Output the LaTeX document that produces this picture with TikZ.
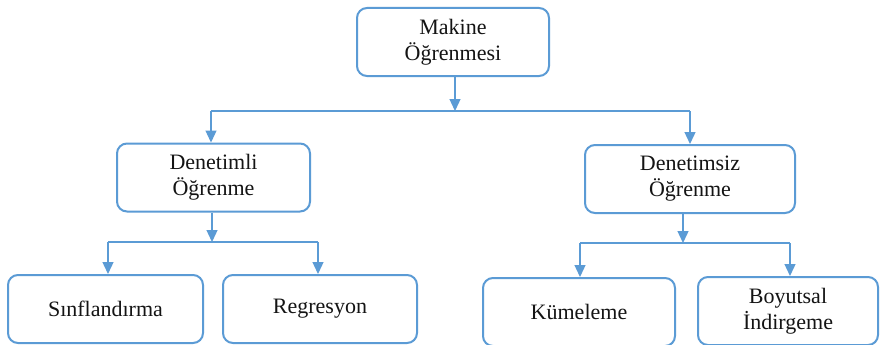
\documentclass[tikz,border=0pt]{standalone}
\usepackage{fontspec}
\setmainfont{Liberation Serif}
\usetikzlibrary{arrows.meta,calc}
\definecolor{boxblue}{RGB}{91,155,213}
\definecolor{txt}{RGB}{20,20,20}
\begin{document}
\begin{tikzpicture}[x=1pt,y=-1pt,
  box/.style={draw=boxblue, line width=2pt, rounded corners=10pt, fill=white, align=center, text=txt, font=\fontsize{22}{26}\selectfont, inner sep=0pt, minimum height=68pt},
  conn/.style={draw=boxblue, line width=1.3pt},
  arr/.style={conn, -{Triangle[width=11pt,length=12pt]}}]
\useasboundingbox[fill=white] (0,0) rectangle (880,345);
\node[box, minimum width=192pt] (mk) at (453,42) {Makine\\Öğrenmesi};
\node[box, minimum width=193pt] (den) at (213.5,177.5) {Denetimli\\Öğrenme};
\node[box, minimum width=210pt] (dsz) at (690,179) {Denetimsiz\\Öğrenme};
\node[box, minimum width=195pt] (sin) at (105.5,309) {Sınflandırma};
\node[box, minimum width=194pt] (reg) at (320,309) {Regresyon};
\node[box, minimum width=192pt] (kum) at (579,312) {Kümeleme};
\node[box, minimum width=180pt] (boy) at (788,311) {Boyutsal\\İndirgeme};
\coordinate (j1) at (455,111);
\coordinate (h1l) at (211,111);
\coordinate (h1r) at (690,111);
\coordinate (j2) at (212,242);
\coordinate (h2l) at (108,242);
\coordinate (h2r) at (318,242);
\coordinate (j3) at (683,243);
\coordinate (h3l) at (580,243);
\coordinate (h3r) at (790,243);
\draw[arr] (mk.south -| j1) -- (j1);
\draw[conn] (h1l) -- (h1r);
\draw[arr] (h1l) -- (den.north -| h1l);
\draw[arr] (h1r) -- (dsz.north -| h1r);
\draw[arr] (den.south -| j2) -- (j2);
\draw[conn] (h2l) -- (h2r);
\draw[arr] (h2l) -- (sin.north -| h2l);
\draw[arr] (h2r) -- (reg.north -| h2r);
\draw[arr] (dsz.south -| j3) -- (j3);
\draw[conn] (h3l) -- (h3r);
\draw[arr] (h3l) -- (kum.north -| h3l);
\draw[arr] (h3r) -- (boy.north -| h3r);
\end{tikzpicture}
\end{document}
